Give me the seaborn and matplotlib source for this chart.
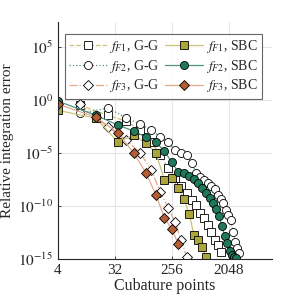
import numpy as np
import matplotlib
matplotlib.use("Agg")
import matplotlib.pyplot as plt
import seaborn as sns

# cubature point counts
gg_x = [9, 25, 49, 81, 121, 169, 225, 289, 361, 441, 529, 625, 729, 841, 961,
        1089, 1225, 1369, 1521, 1681, 1849, 2025, 2209, 2401, 2601, 2809, 3025]
sbc_x = [4, 16, 36, 64, 100, 144, 196, 256, 324, 400, 484, 576, 676, 784, 900,
         1024, 1156, 1296, 1444, 1600, 1764, 1936, 2116, 2304, 2500, 2704]

# relative integration errors, G-G
gg_f1 = [3.4e-1, 3.8e-2, 1.0e-2, 1.5e-3, 1.1e-4, 6.5e-6, 3.8e-7, 4.4e-8, 7.8e-9, 1.7e-9,
         3.7e-10, 1.2e-10, 2.2e-11, 7.4e-12, 1.6e-12, 3.5e-13, 6.2e-14, 2.1e-14, 4.6e-15]
gg_f2 = [5.9e-2, 1.8e-1, 2.0e-2, 5.5e-3, 1.5e-3, 3.2e-4, 1.1e-4, 1.9e-5, 1.0e-5, 6.5e-6,
         1.1e-6, 1.3e-7, 5.5e-8, 2.8e-8, 1.5e-8, 7.8e-9, 4.0e-9, 1.1e-9, 4.6e-10, 1.9e-10,
         4.2e-11, 1.4e-11, 4.8e-12, 3.5e-13, 4.0e-14, 1.1e-14, 3.7e-15]
gg_f3 = [4.2e-1, 2.8e-3, 1.7e-4, 1.0e-5, 2.5e-7, 2.1e-9, 6.5e-11, 3.1e-12, 6.2e-14, 1.5e-15]

# relative integration errors, SBC
sbc_f1 = [1.1e-1, 2.0e-2, 1.1e-4, 5.0e-4, 8.7e-5, 1.0e-5, 2.8e-8, 4.4e-8, 5.0e-9, 4.6e-10,
          1.8e-11, 1.8e-13, 6.2e-14, 1.3e-14, 1.5e-15]
sbc_f2 = [8.1e-1, 3.8e-2, 4.4e-3, 1.2e-3, 3.2e-4, 1.1e-4, 1.5e-5, 1.4e-6, 1.6e-7, 1.3e-7,
          6.8e-8, 3.5e-8, 1.5e-8, 5.0e-9, 1.7e-9, 5.6e-10, 1.9e-10, 5.2e-11, 1.1e-11, 1.3e-12,
          1.5e-13, 3.2e-14, 5.6e-15, 2.4e-15, 1.5e-15, 1.2e-15]
sbc_f3 = [4.2e-1, 2.5e-2, 7.8e-4, 1.0e-5, 1.3e-7, 1.1e-9, 7.4e-12, 6.8e-13, 2.6e-14]

xticks = [4, 32, 256, 2048]
yticks = [1e-15, 1e-10, 1e-5, 1e0, 1e5]

sns.set_style("ticks")
plt.rcParams["font.family"] = ["Liberation Serif", "DejaVu Serif"]
plt.rcParams["mathtext.fontset"] = "stix"

fig = plt.figure(figsize=(3, 3), dpi=100)
ax = fig.add_axes([0.193, 0.137, 0.714, 0.79])

olive, green, brown = "#aba63c", "#1f7a5c", "#b65d34"
lolive, lgreen, lbrown = "#cbc37a", "#4f9484", "#e3a98f"
ms = 5.8

series = [
    (gg_x[:len(gg_f1)], gg_f1, lolive, "--", "s", "white", r"$f_{F1}$, G-G"),
    (gg_x[:len(gg_f2)], gg_f2, lgreen, ":", "o", "white", r"$f_{F2}$, G-G"),
    (gg_x[:len(gg_f3)], gg_f3, lbrown, "-.", "D", "white", r"$f_{F3}$, G-G"),
    (sbc_x[:len(sbc_f1)], sbc_f1, lolive, "-", "s", olive, r"$f_{F1}$, SBC"),
    (sbc_x[:len(sbc_f2)], sbc_f2, lgreen, "-", "o", green, r"$f_{F2}$, SBC"),
    (sbc_x[:len(sbc_f3)], sbc_f3, lbrown, "-", "D", brown, r"$f_{F3}$, SBC"),
]

handles = []
for x, y, lc, ls, mk, fc, lab in series:
    sns.lineplot(x=x, y=y, ax=ax, sort=False, color=lc, linestyle=ls, linewidth=0.9,
                 marker=mk, markersize=ms if mk != "D" else ms - 0.4,
                 markerfacecolor=fc, markeredgecolor="black", markeredgewidth=0.6)
    handles.append(ax.lines[-1])

ax.set_xscale("log", base=2)
ax.set_yscale("log")
ax.set_xlim(4, 10000)
ax.set_ylim(1e-15, 10 ** 7.4)
ax.set_xticks(xticks)
ax.set_xticklabels([str(t) for t in xticks])
ax.set_yticks(yticks)
ax.set_yticklabels([r"$10^{%d}$" % int(np.log10(t)) for t in yticks])
ax.minorticks_off()
ax.grid(True, color="#e6e6e6", linewidth=0.8)
ax.set_axisbelow(True)
for s in ["top", "right"]:
    ax.spines[s].set_visible(False)
for s in ["left", "bottom"]:
    ax.spines[s].set_color("#262626")
    ax.spines[s].set_linewidth(0.8)
ax.tick_params(direction="in", length=2.5, width=0.6, labelsize=11, colors="#262626")
for lbl in ax.get_xticklabels() + ax.get_yticklabels():
    lbl.set_color("#262626")

ax.set_xlabel("Cubature points", fontsize=11.5, color="#262626", labelpad=1)
ax.set_ylabel("Relative integration error", fontsize=11, color="#262626", labelpad=3)

leg = ax.legend(handles=handles, labels=[s[-1] for s in series], ncol=2,
                loc="upper left", bbox_to_anchor=(0.033, 0.95), fontsize=10,
                frameon=True, fancybox=False, handlelength=2.7, handletextpad=0.2,
                columnspacing=0.4, borderpad=0.3, labelspacing=0.2,
                borderaxespad=0)
leg.get_frame().set_edgecolor("#404040")
leg.get_frame().set_linewidth(0.8)

fig.savefig("out.png", dpi=100)
